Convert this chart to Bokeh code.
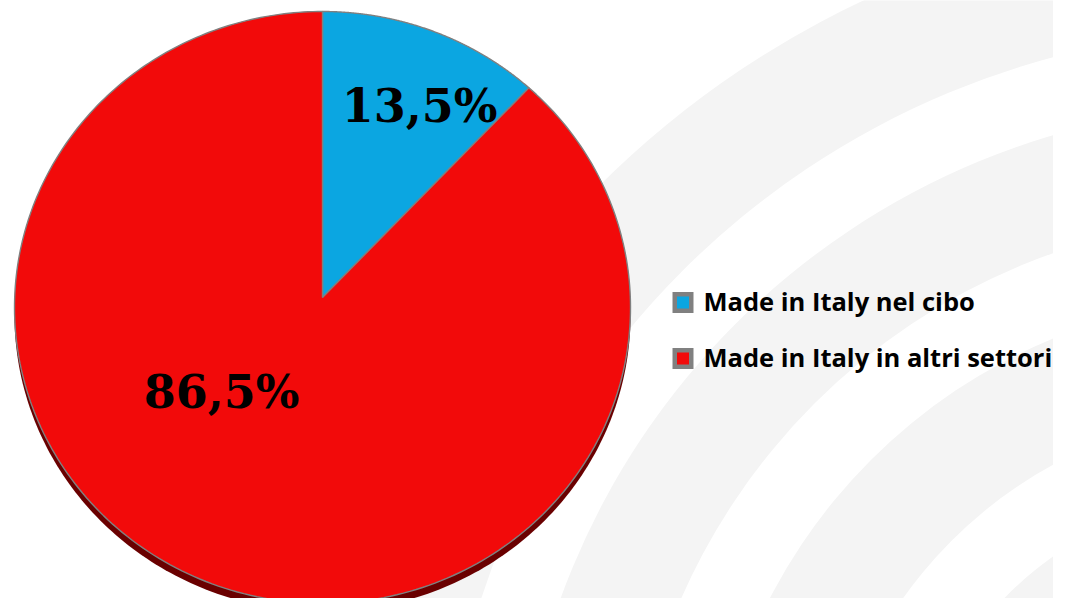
import numpy as np
from bokeh.plotting import figure
from bokeh.models import Range1d
from bokeh.core.properties import value
from bokeh.embed import file_html
from bokeh.resources import INLINE

# ---- data ----
categories = ["Made in Italy nel cibo", "Made in Italy in altri settori"]
shares = [13.5, 86.5]
share_labels = ["13,5%", "86,5%"]

# ---- styling / layout (pixel coordinates of the picture) ----
slice_colors = ["#0ba6e1", "#f20a0a"]
shadow_color = "#6a0000"
edge_color = "#808080"
CX, CY = 322, 307          # centre of the pie ellipse
RX, RY = 308, 296          # radii of the ellipse
APEX_X, APEX_Y = 322, 297  # apparent centre point (3D perspective)
WARP = 0.169               # perspective warp of the angles
DEPTH = 8                  # thickness of the 3D pie
label_xy = [(419, 105), (221, 391)]
legend_x, legend_rows = 672, [302, 358]

# background watermark (concentric light bands)
bg_cx, bg_cy = 1265, 854
bg_bands = [(825, 944), (638, 750), (444, 558), (256, 366)]

p = figure(width=1053, height=598, x_range=Range1d(0, 1053), y_range=Range1d(598, 0),
           x_axis_type=None, y_axis_type=None, toolbar_location=None,
           output_backend="svg", min_border=0, outline_line_color=None,
           background_fill_color="white", border_fill_color="white")
p.grid.visible = False

# watermark bands
p.annulus(x=[bg_cx] * len(bg_bands), y=[bg_cy] * len(bg_bands),
          inner_radius=[b[0] for b in bg_bands], outer_radius=[b[1] for b in bg_bands],
          fill_color="#f4f4f4", line_color=None)


def outline(theta):
    phi = np.arctan2(np.sin(theta), np.cos(theta) + WARP)
    return CX + RX * np.sin(phi), CY - RY * np.cos(phi)


# shadow / side of the 3D pie
t = np.linspace(0, 2 * np.pi, 400)
sx, sy = outline(t)
p.patch(sx, sy + DEPTH, fill_color=shadow_color, line_color=None)

# slices
total = float(sum(shares))
fr = np.cumsum([0.0] + [s / total for s in shares])
xs, ys = [], []
for i in range(len(shares)):
    th = np.linspace(fr[i] * 2 * np.pi, fr[i + 1] * 2 * np.pi, 300)
    ox, oy = outline(th)
    xs.append(np.concatenate([[APEX_X], ox, [APEX_X]]).tolist())
    ys.append(np.concatenate([[APEX_Y], oy, [APEX_Y]]).tolist())
p.patches(xs, ys, fill_color=slice_colors, line_color=edge_color, line_width=1.4)

# percentage labels
p.text(x=[xy[0] for xy in label_xy], y=[xy[1] for xy in label_xy], text=share_labels,
       text_font=value("DejaVu Serif"), text_font_style="bold",
       text_font_size="46px", text_align="center", text_baseline="alphabetic",
       text_color="black")

# legend
p.rect(x=[legend_x + 10.5] * 2, y=legend_rows, width=21, height=21,
       fill_color="#808080", line_color=None)
p.rect(x=[legend_x + 10.5] * 2, y=legend_rows, width=12, height=12,
       fill_color=slice_colors, line_color=None)
p.text(x=[legend_x + 31] * 2, y=[r - 1.5 for r in legend_rows], text=categories,
       text_font=value("Open Sans"), text_font_style="bold", text_font_size="25.5px",
       text_align="left", text_baseline="alphabetic", text_color="black")

open("out.html", "w").write(file_html(p, INLINE))
